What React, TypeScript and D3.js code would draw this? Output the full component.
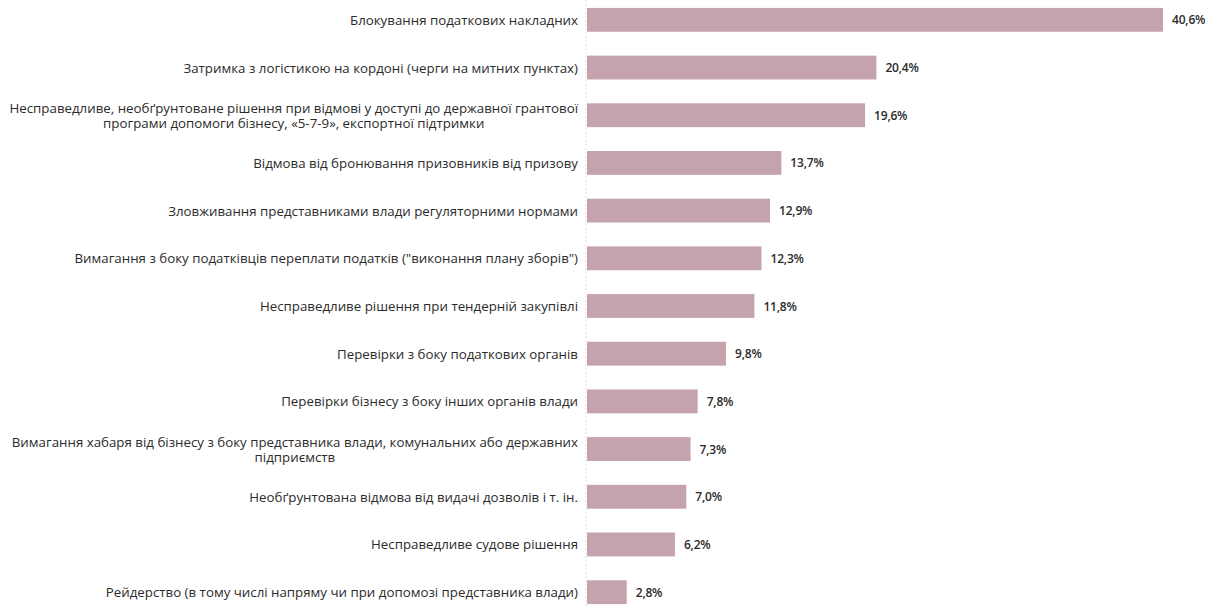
import { useRef, useEffect } from 'react';
import { select, scaleLinear, scaleBand } from 'd3';

const categories: string[][] = [
  ['Блокування податкових накладних'],
  ['Затримка з логістикою на кордоні (черги на митних пунктах)'],
  [
    'Несправедливе, необґрунтоване рішення при відмові у доступі до державної грантової',
    'програми допомоги бізнесу, «5-7-9», експортної підтримки',
  ],
  ['Відмова від бронювання призовників від призову'],
  ['Зловживання представниками влади регуляторними нормами'],
  ['Вимагання з боку податківців переплати податків ("виконання плану зборів")'],
  ['Несправедливе рішення при тендерній закупівлі'],
  ['Перевірки з боку податкових органів'],
  ['Перевірки бізнесу з боку інших органів влади'],
  ['Вимагання хабаря від бізнесу з боку представника влади, комунальних або державних', 'підприємств'],
  ['Необґрунтована відмова від видачі дозволів і т. ін.'],
  ['Несправедливе судове рішення'],
  ['Рейдерство (в тому числі напряму чи при допомозі представника влади)'],
];

const values = [40.6, 20.4, 19.6, 13.7, 12.9, 12.3, 11.8, 9.8, 7.8, 7.3, 7.0, 6.2, 2.8];

const WIDTH = 1218;
const HEIGHT = 608;
const X0 = 587;
const LABEL_RIGHT = 578;
const BAR_COLOR = '#c5a3ad';
const TEXT_COLOR = '#2b2b2b';
const FONT = '"Open Sans", Roboto, sans-serif';

export default function App() {
  const svgRef = useRef<SVGSVGElement>(null);

  useEffect(() => {
    const svg = select(svgRef.current!);
    svg.selectAll('*').remove();

    const x = scaleLinear().domain([0, 40.6]).range([X0, 1163]);
    const y = scaleBand<number>()
      .domain(values.map((_, i) => i))
      .range([-4, 616])
      .paddingInner(0.5)
      .paddingOuter(0.25);

    // faint dotted baseline
    svg
      .append('line')
      .attr('x1', X0 - 1)
      .attr('x2', X0 - 1)
      .attr('y1', 0)
      .attr('y2', HEIGHT)
      .attr('stroke', '#e6dde0')
      .attr('stroke-dasharray', '2,2');

    svg
      .append('g')
      .selectAll('rect')
      .data(values)
      .enter()
      .append('rect')
      .attr('x', x(0))
      .attr('y', (_, i) => y(i)!)
      .attr('width', (d) => x(d) - x(0))
      .attr('height', y.bandwidth())
      .attr('fill', BAR_COLOR);

    svg
      .append('g')
      .selectAll('text')
      .data(values)
      .enter()
      .append('text')
      .attr('x', (d) => x(d) + 9)
      .attr('y', (_, i) => y(i)! + y.bandwidth() / 2)
      .attr('dominant-baseline', 'central')
      .attr('font-family', FONT)
      .attr('font-size', 12)
      .attr('font-weight', 600)
      .attr('letter-spacing', -0.2)
      .attr('fill', TEXT_COLOR)
      .text((d) => `${d.toFixed(1).replace('.', ',')}%`);

    const labels = svg
      .append('g')
      .attr('font-family', FONT)
      .attr('font-size', 13.3)
      .attr('font-weight', 500)
      .attr('fill', TEXT_COLOR);

    categories.forEach((lines, i) => {
      const cy = y(i)! + y.bandwidth() / 2;
      const lineH = 15;
      const texts = lines.map((ln, j) =>
        labels
          .append('text')
          .attr('y', cy + (j - (lines.length - 1) / 2) * lineH)
          .attr('dominant-baseline', 'central')
          .text(ln),
      );
      const widths = texts.map((t) => (t.node() as SVGTextElement).getComputedTextLength());
      const maxW = Math.max(...widths);
      texts.forEach((t) => t.attr('text-anchor', 'middle').attr('x', LABEL_RIGHT - maxW / 2));
    });
  }, []);

  return (
    <div style={{ position: 'absolute', left: 0, top: 0, background: '#fff' }}>
      <svg ref={svgRef} width={WIDTH} height={HEIGHT} style={{ display: 'block' }} />
    </div>
  );
}
